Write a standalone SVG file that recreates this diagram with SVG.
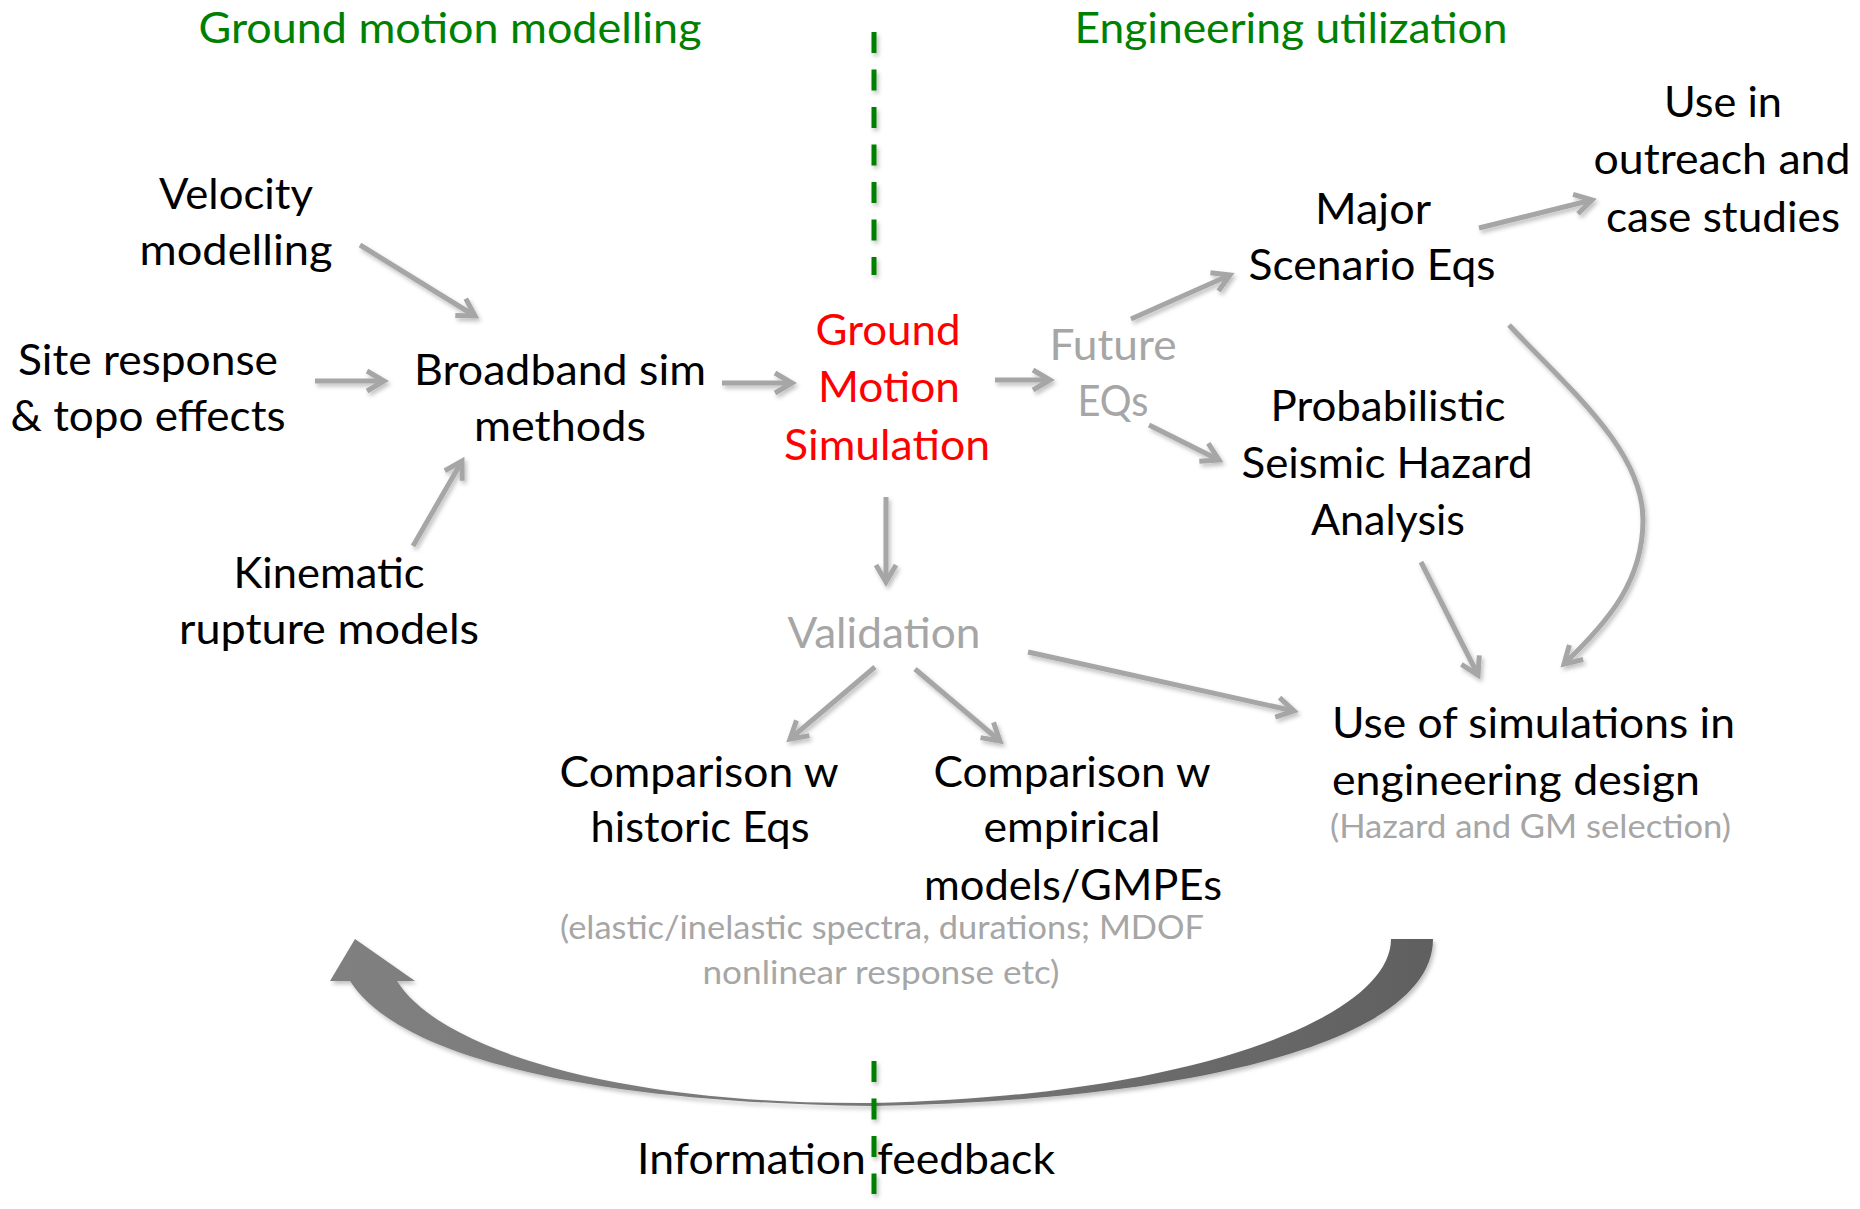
<svg xmlns="http://www.w3.org/2000/svg" width="1860" height="1209" viewBox="0 0 1860 1209">
<style>
text{font-family:Lato,"Open Sans","Liberation Sans",sans-serif;font-size:43px;fill:#000;text-anchor:middle}
.g{fill:#008000}
.r{fill:#ff0000}
.gr{fill:#a6a6a6}
.sm{font-size:33px;fill:#a6a6a6}
.st{text-anchor:start}
.c{fill:none;stroke:#a6a6a6;stroke-width:5;marker-end:url(#ah)}
.dash{stroke:#008000;stroke-width:5;stroke-dasharray:21 16.5}
</style>
<defs>
<marker id="ah" markerUnits="userSpaceOnUse" orient="auto" refX="0" refY="0" markerWidth="1" markerHeight="1" overflow="visible">
<path d="M-17,-10 L0,0 L-17,10" fill="none" stroke="#a6a6a6" stroke-width="5"/>
</marker>
<filter id="sh" filterUnits="userSpaceOnUse" x="0" y="0" width="1860" height="1209">
<feDropShadow dx="2" dy="3" stdDeviation="2" flood-color="#000" flood-opacity="0.25"/>
</filter>
<linearGradient id="fb" gradientUnits="userSpaceOnUse" x1="330" y1="0" x2="1433" y2="0">
<stop offset="0" stop-color="#808080"/>
<stop offset="0.5" stop-color="#777"/>
<stop offset="1" stop-color="#606060"/>
</linearGradient>
</defs>
<rect width="1860" height="1209" fill="#fff"/>

<g id="titles">
<text class="g" x="450" y="43" textLength="503" lengthAdjust="spacingAndGlyphs">Ground motion modelling</text>
<text class="g" x="1291" y="43" textLength="433" lengthAdjust="spacingAndGlyphs">Engineering utilization</text>
</g>

<g id="connectors" filter="url(#sh)">
<line class="c" x1="360" y1="245" x2="475" y2="316"/>
<line class="c" x1="315" y1="381" x2="384" y2="381"/>
<line class="c" x1="413" y1="546" x2="462" y2="461"/>
<line class="c" x1="722" y1="383" x2="792" y2="383"/>
<line class="c" x1="995" y1="380" x2="1050" y2="380"/>
<line class="c" x1="1131" y1="319" x2="1230" y2="275"/>
<line class="c" x1="1149" y1="425" x2="1219" y2="460"/>
<line class="c" x1="1479" y1="228" x2="1592" y2="200"/>
<line class="c" x1="886" y1="497" x2="886" y2="582"/>
<line class="c" x1="875" y1="667" x2="790" y2="739"/>
<line class="c" x1="915" y1="669" x2="1000" y2="741"/>
<line class="c" x1="1028" y1="652" x2="1294" y2="711"/>
<line class="c" x1="1421" y1="562" x2="1478" y2="675"/>
<path class="c" d="M1509,325 C1570,390 1643,450 1643,520 C1643,580 1610,620 1564,664"/>
<path id="feedback-arrow" d="M355,939 L415,981 L397,981 C440,1050 620,1105 873,1103 C1180,1097 1391,1020 1391,939 L1433,939 C1433,1040 1200,1100 873,1106 C600,1103 400,1060 350,981 L330,981 Z" fill="url(#fb)"/>
</g>

<g id="velocity">
<text x="236" y="209" textLength="154" lengthAdjust="spacingAndGlyphs">Velocity</text>
<text x="236" y="265" textLength="193" lengthAdjust="spacingAndGlyphs">modelling</text>
</g>
<g id="site-response">
<text x="148" y="375" textLength="260" lengthAdjust="spacingAndGlyphs">Site response</text>
<text x="148" y="431" textLength="275" lengthAdjust="spacingAndGlyphs">&amp; topo effects</text>
</g>
<g id="broadband">
<text x="560" y="385" textLength="292" lengthAdjust="spacingAndGlyphs">Broadband sim</text>
<text x="560" y="441" textLength="172" lengthAdjust="spacingAndGlyphs">methods</text>
</g>
<g id="kinematic">
<text x="329" y="588" textLength="191" lengthAdjust="spacingAndGlyphs">Kinematic</text>
<text x="329" y="644" textLength="300" lengthAdjust="spacingAndGlyphs">rupture models</text>
</g>
<g id="gm-simulation">
<text class="r" x="888" y="345" textLength="145" lengthAdjust="spacingAndGlyphs">Ground</text>
<text class="r" x="889" y="402" textLength="142" lengthAdjust="spacingAndGlyphs">Motion</text>
<text class="r" x="887" y="460" textLength="206" lengthAdjust="spacingAndGlyphs">Simulation</text>
</g>
<g id="future-eqs">
<text class="gr" x="1113" y="360" textLength="127" lengthAdjust="spacingAndGlyphs">Future</text>
<text class="gr" x="1113" y="416" textLength="71" lengthAdjust="spacingAndGlyphs">EQs</text>
</g>
<g id="major-scenario">
<text x="1373" y="224" textLength="116" lengthAdjust="spacingAndGlyphs">Major</text>
<text x="1372" y="280" textLength="247" lengthAdjust="spacingAndGlyphs">Scenario Eqs</text>
</g>
<g id="outreach">
<text x="1723" y="117" textLength="118" lengthAdjust="spacingAndGlyphs">Use in</text>
<text x="1722" y="174" textLength="257" lengthAdjust="spacingAndGlyphs">outreach and</text>
<text x="1723" y="232" textLength="234" lengthAdjust="spacingAndGlyphs">case studies</text>
</g>
<g id="psha">
<text x="1388" y="421" textLength="235" lengthAdjust="spacingAndGlyphs">Probabilistic</text>
<text x="1387" y="478" textLength="291" lengthAdjust="spacingAndGlyphs">Seismic Hazard</text>
<text x="1388" y="535" textLength="154" lengthAdjust="spacingAndGlyphs">Analysis</text>
</g>
<g id="validation">
<text class="gr" x="884" y="648" textLength="193" lengthAdjust="spacingAndGlyphs">Validation</text>
</g>
<g id="comparison-historic">
<text x="699" y="787" textLength="279" lengthAdjust="spacingAndGlyphs">Comparison w</text>
<text x="700" y="842" textLength="219" lengthAdjust="spacingAndGlyphs">historic Eqs</text>
</g>
<g id="comparison-empirical">
<text x="1072" y="787" textLength="277" lengthAdjust="spacingAndGlyphs">Comparison w</text>
<text x="1072" y="842" textLength="177" lengthAdjust="spacingAndGlyphs">empirical</text>
<text x="1073" y="900" textLength="298" lengthAdjust="spacingAndGlyphs">models/GMPEs</text>
</g>
<g id="validation-note">
<text class="sm" x="882" y="939" textLength="644" lengthAdjust="spacingAndGlyphs">(elastic/inelastic spectra, durations; MDOF</text>
<text class="sm" x="881" y="984" textLength="357" lengthAdjust="spacingAndGlyphs">nonlinear response etc)</text>
</g>
<g id="engineering-design">
<text class="st" x="1332" y="738" textLength="403" lengthAdjust="spacingAndGlyphs">Use of simulations in</text>
<text class="st" x="1332" y="795" textLength="368" lengthAdjust="spacingAndGlyphs">engineering design</text>
<text class="sm st" x="1330" y="838" textLength="401" lengthAdjust="spacingAndGlyphs">(Hazard and GM selection)</text>
</g>
<g id="information-feedback">
<text x="846" y="1174" textLength="418" lengthAdjust="spacingAndGlyphs">Information feedback</text>
</g>

<g id="divider" filter="url(#sh)">
<line class="dash" x1="874" y1="32" x2="874" y2="275"/>
<line class="dash" x1="874" y1="1061" x2="874" y2="1194"/>
</g>
</svg>
